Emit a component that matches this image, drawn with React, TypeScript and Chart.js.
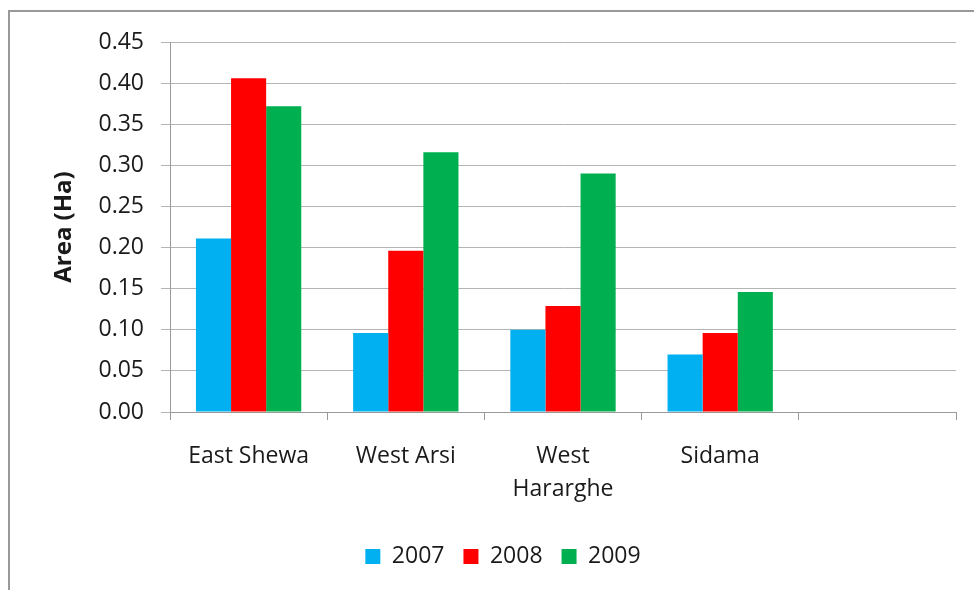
import React, { useEffect, useRef } from "react";
import { Chart, registerables } from "chart.js";

Chart.register(...registerables);

const categories: (string | string[])[] = ["East Shewa", "West Arsi", ["West", "Hararghe"], "Sidama", ""];
const seriesNames = ["2007", "2008", "2009"];
const values2007 = [0.211, 0.096, 0.1, 0.07, null];
const values2008 = [0.406, 0.196, 0.129, 0.096, null];
const values2009 = [0.372, 0.316, 0.29, 0.146, null];
const seriesColors = ["#00B0F0", "#FF0000", "#00B050"];
const yTicks = [0, 0.05, 0.1, 0.15, 0.2, 0.25, 0.3, 0.35, 0.4, 0.45];

const FONT = "'Open Sans', 'Noto Sans', sans-serif";

export default function App() {
  const ref = useRef<HTMLCanvasElement | null>(null);
  useEffect(() => {
    if (!ref.current) return;
    const seriesValues = [values2007, values2008, values2009];
    const chart = new Chart(ref.current, {
      type: "bar",
      data: {
        labels: categories,
        datasets: seriesNames.map((n, i) => ({
          label: n,
          data: seriesValues[i],
          backgroundColor: seriesColors[i],
          borderWidth: 0,
          categoryPercentage: 0.67,
          barPercentage: 1,
        })),
      },
      options: {
        animation: false,
        responsive: false,
        maintainAspectRatio: false,
        layout: { padding: { left: 50, right: 18, top: 42, bottom: 12 } },
        plugins: {
          tooltip: { enabled: false },
          legend: {
            position: "bottom",
            labels: {
              boxWidth: 15,
              boxHeight: 15,
              padding: 19,
              color: "#1a1a1a",
              font: { family: FONT, size: 23, lineHeight: 1.2 },
            },
          },
        },
        scales: {
          x: {
            grid: { drawOnChartArea: false, drawTicks: true, tickLength: 8, color: "#999" },
            border: { color: "#999", width: 1 },
            ticks: {
              color: "#1a1a1a",
              padding: 20,
              maxRotation: 0,
              autoSkip: false,
              font: { family: FONT, size: 23, lineHeight: 1.43 },
            },
            afterFit: (s: any) => {
              s.height = 114;
            },
          },
          y: {
            min: 0,
            max: 0.45,
            afterBuildTicks: (s: any) => {
              s.ticks = yTicks.map((v) => ({ value: v }));
            },
            grid: { color: "#b4b4b4", tickLength: 9, lineWidth: 1 },
            border: { color: "#999", width: 1 },
            ticks: {
              color: "#1a1a1a",
              padding: 17,
              font: { family: FONT, size: 23 },
              callback: (v: any) => Number(v).toFixed(2),
            },
            title: {
              display: true,
              text: "Area (Ha)",
              color: "#1a1a1a",
              padding: { top: 0, bottom: 0 },
              font: { family: FONT, size: 24, weight: "bold" },
            },
            afterFit: (s: any) => {
              s.width = 120;
            },
          },
        },
      },
    });
    return () => chart.destroy();
  }, []);
  return (
    <>
      <div
        style={{
          position: "fixed",
          left: 8,
          top: 10,
          width: 966,
          height: 580,
          borderTop: "2px solid #999",
          borderLeft: "2px solid #999",
          boxSizing: "border-box",
        }}
      />
      <canvas
        ref={ref}
        width={974}
        height={590}
        style={{ position: "fixed", left: 0, top: 0, width: 974, height: 590 }}
      />
    </>
  );
}
